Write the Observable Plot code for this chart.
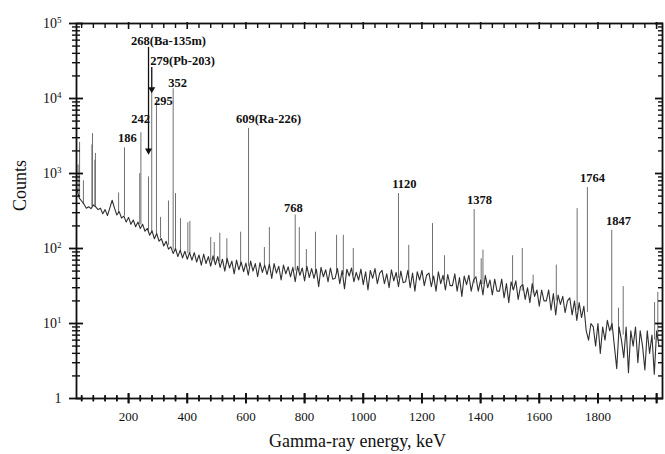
<!DOCTYPE html>
<html>
<head>
<meta charset="utf-8">
<script src="https://cdn.jsdelivr.net/npm/d3@7"></script>
<script src="https://cdn.jsdelivr.net/npm/@observablehq/plot@0.6"></script>
<style>
  html, body { margin: 0; padding: 0; background: #fff; }
  #chart { width: 665px; height: 454px; }
</style>
</head>
<body>
<div id="chart"></div>
<script>
// ---- Data ----
const contStartKeV = 24;
const contStepKeV = 8;
const continuumCounts = [
  620, 470, 430, 390, 345, 360, 340, 380, 360, 330,
  345, 290, 330, 275, 345, 440, 345, 280, 310, 255,
  270, 225, 260, 210, 240, 195, 225, 185, 210, 170,
  185, 150, 172, 135, 158, 125, 135, 108, 125, 98,
  105, 86, 100, 78, 95, 75, 92, 72, 88, 70,
  88, 66, 82, 60, 84, 63, 78, 58, 80, 61,
  78, 56, 72, 50, 74, 55, 68, 46, 70, 52,
  66, 49, 64, 44, 68, 50, 63, 42, 65, 48,
  60, 45, 62, 40, 63, 47, 58, 38, 60, 46,
  57, 42, 56, 36, 58, 44, 55, 37, 58, 41,
  54, 40, 53, 31, 56, 42, 52, 36, 55, 39,
  40, 54, 34, 51, 29, 53, 43, 55, 36, 48,
  38, 53, 33, 49, 28, 51, 40, 54, 34, 47,
  51, 34, 46, 30, 52, 37, 48, 31, 50, 35,
  36, 51, 30, 47, 27, 49, 38, 51, 32, 44,
  47, 31, 43, 27, 49, 34, 44, 28, 45, 32,
  32, 46, 27, 41, 23, 43, 33, 44, 27, 38,
  42, 27, 38, 24, 44, 30, 38, 24, 39, 27,
  27, 39, 22, 34, 19, 36, 28, 37, 21, 31,
  33, 21, 30, 19, 34, 23, 28, 17, 28, 20,
  20, 28, 15, 25, 13, 24, 18, 23, 14, 20,
  22, 13, 20, 11, 19, 12, 17, 8, 6, 10,
  9, 5, 10, 4, 9, 6, 11, 8, 10, 5,
  2.5, 9, 6, 3.5, 9, 2.2, 8, 5, 9, 3,
  8, 5, 2.4, 8, 4, 7, 2.1, 8, 5
];

const peakEnergies = [28, 33, 46, 75, 77, 85, 87,
  166, 186, 238, 242, 268, 279, 295, 309, 336, 352,
  360, 377, 402, 409, 480, 492, 511, 535, 582, 609,
  663, 680, 768, 782, 806, 837, 909, 932, 966, 1120,
  1155, 1236, 1277, 1378, 1402, 1408, 1509, 1542, 1579, 1658,
  1729, 1764, 1847, 1870, 1886, 1993, 2004];
const peakTops = [1300, 2600, 800, 2400, 3400, 1500, 1850,
  550, 2200, 1000, 3500, 900, 12000, 9500, 260, 430, 13500,
  540, 250, 220, 230, 140, 120, 160, 135, 165, 4000,
  103, 190, 280, 190, 97, 165, 150, 150, 100, 540,
  110, 215, 80, 330, 73, 95, 80, 100, 44, 60,
  340, 650, 175, 16, 31, 19, 26];
const peakBases = [550, 470, 390, 360, 360, 370, 365,
  300, 270, 210, 205, 170, 160, 150, 135, 110, 95,
  92, 88, 85, 85, 68, 66, 66, 62, 58, 57,
  55, 55, 50, 50, 49, 47, 45, 44, 43, 40,
  40, 38, 37, 34, 33, 33, 28, 27, 25, 20,
  15, 14, 8, 7, 7, 6, 6];

const labelTexts = ["186", "242", "268(Ba-135m)", "279(Pb-203)", "295", "352",
  "609(Ra-226)", "768", "1120", "1378", "1764", "1847"];
const labelEnergies = [196, 241, 336, 384, 319, 367, 677, 762, 1140, 1396, 1781, 1870];
const labelCounts = [3000, 5400, 59000, 32000, 9400, 16300, 5400, 352, 735, 437, 858, 236];

const arrowEnergies = [268, 279];
const arrowFrom = [48000, 26000];
const arrowTo = [1900, 12500];

const xTickValues = [200, 400, 600, 800, 1000, 1200, 1400, 1600, 1800];
const yTickValues = [1, 10, 100, 1000, 10000, 100000];

// ---- Tables built from the arrays ----
const spectrum = continuumCounts.map((c, i) => ({e: contStartKeV + i * contStepKeV, c}));
const peaks = peakEnergies.map((e, i) => ({e, top: peakTops[i], base: peakBases[i]}));
const labels = labelTexts.map((t, i) => ({t, e: labelEnergies[i], c: labelCounts[i]}));
const arrows = arrowEnergies.map((e, i) => ({e, from: arrowFrom[i], to: arrowTo[i]}));
const xMinor = d3.range(40, 2020, 40).filter(v => v % 200 !== 0);
const xMajorTicks = d3.range(0, 2020, 200).filter(v => v > 22);
const yMinor = [];
for (let k = 0; k < 5; k++) for (let m = 2; m <= 9; m++) yMinor.push(m * Math.pow(10, k));

// vertical tick glyphs centred on the bottom axis line
const vTick = half => ({draw(ctx) { ctx.moveTo(0, -half); ctx.lineTo(0, half); }});

const font = "'Liberation Serif', 'Times New Roman', serif";
const blank = () => "";

const chart = Plot.plot({
  width: 665,
  height: 454,
  marginLeft: 76,
  marginRight: 3,
  marginTop: 23,
  marginBottom: 56,
  style: {fontFamily: font, fontSize: "13px", color: "#111", background: "#fff", overflow: "visible"},
  x: {domain: [22.5, 2020]},
  y: {type: "log", domain: [1, 1e5]},
  marks: [
    // spectrum
    Plot.ruleX(peaks, {x: "e", y1: "base", y2: "top", stroke: "#707070", strokeWidth: 1}),
    Plot.line(spectrum, {x: "e", y: "c", stroke: "#303030", strokeWidth: 1.1}),
    // frame and ticks
    Plot.frame({stroke: "#111", strokeWidth: 1.8}),
    Plot.axisX(xMinor, {anchor: "bottom", tickSize: 6, dy: -3, tickFormat: blank, strokeWidth: 1.5, label: null}),
    Plot.axisX(xMajorTicks, {anchor: "bottom", tickSize: 10, dy: -5, tickFormat: blank, strokeWidth: 1.8, label: null}),
    Plot.dot(xMinor, {x: d => d, frameAnchor: "bottom", symbol: vTick(3), stroke: "#111", strokeWidth: 1.5, fill: "none"}),
    Plot.dot(xMajorTicks, {x: d => d, frameAnchor: "bottom", symbol: vTick(5), stroke: "#111", strokeWidth: 1.8, fill: "none"}),
    Plot.axisX(xTickValues, {anchor: "bottom", tickSize: 0, tickPadding: 13, fontSize: 13, tickFormat: d => String(d), label: null}),
    Plot.axisX(xMinor, {anchor: "top", tickSize: 4, dy: 4, tickFormat: blank, strokeWidth: 1.4, label: null}),
    Plot.axisX(xMajorTicks, {anchor: "top", tickSize: 7, dy: 5, tickFormat: blank, strokeWidth: 1.6, label: null}),
    Plot.axisY(yMinor, {anchor: "left", tickSize: 8, dx: 4, tickFormat: blank, strokeWidth: 1.4, label: null}),
    Plot.axisY(yTickValues, {anchor: "left", tickSize: 14, dx: 7, tickFormat: blank, strokeWidth: 1.8, label: null}),
    Plot.axisY(yTickValues, {anchor: "left", tickSize: 0, tickPadding: 15, fontSize: 14, label: null,
      tickFormat: d => d === 1 ? "1" : "10^" + Math.round(Math.log10(d))}),
    Plot.axisY(yMinor, {anchor: "right", tickSize: 5, dx: -5, tickFormat: blank, strokeWidth: 1.4, label: null}),
    Plot.axisY(yTickValues, {anchor: "right", tickSize: 8, dx: -8, tickFormat: blank, strokeWidth: 1.8, label: null}),
    // annotations
    Plot.ruleX(arrows, {x: "e", y1: "from", y2: "to", stroke: "#111", strokeWidth: 1.3}),
    Plot.dot(arrows, {x: "e", y: "to", symbol: "triangle", r: 2.6, fill: "#111", stroke: "none", rotate: 180, dy: -2}),
    Plot.text(labels, {x: "e", y: "c", text: "t", fontWeight: "bold", fontSize: 12.5, fill: "#111"}),
    // axis titles
    Plot.text(["Counts"], {text: d => d, frameAnchor: "left", dx: -56, rotate: -90, fontSize: 18, fill: "#111"}),
    Plot.text(["Gamma-ray energy, keV"], {text: d => d, frameAnchor: "bottom", dy: 48, dx: -12, fontSize: 18, fill: "#111"})
  ]
});

// superscript exponents on the y tick labels
d3.select(chart).selectAll("text").each(function() {
  const m = /^10\^(\d)$/.exec(this.textContent);
  if (m) {
    const t = d3.select(this);
    t.text("");
    t.append("tspan").text("10");
    t.append("tspan").attr("dy", "-0.5em").attr("font-size", "9px").text(m[1]);
  }
});

document.getElementById("chart").appendChild(chart);
</script>
</body>
</html>
